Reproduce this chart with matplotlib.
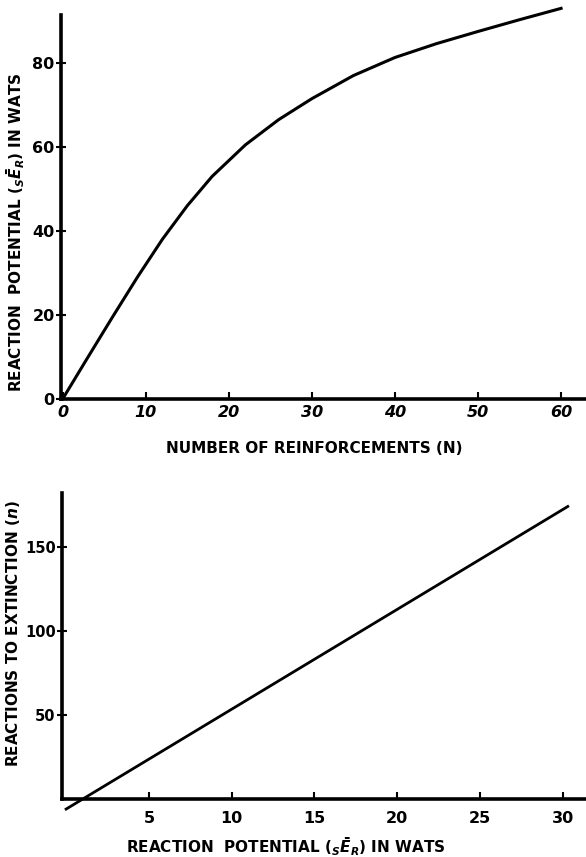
import numpy as np
import matplotlib
matplotlib.use('Agg')
import matplotlib.pyplot as plt

# Upper panel: reaction potential vs number of reinforcements
n_reinf = [0, 3, 6, 9, 12, 15, 18, 22, 26, 30, 35, 40, 45, 50, 55, 60]
potential = [0, 9.8, 19.5, 29, 38, 46, 53, 60.5, 66.5, 71.5, 77, 81.3, 84.6, 87.5, 90.3, 93]
top_xticks = [0, 10, 20, 30, 40, 50, 60]
top_yticks = [0, 20, 40, 60, 80]

# Lower panel: reactions to extinction vs reaction potential
pot2 = [0, 30.3]
extinction = [-6, 174]
bot_xticks = [5, 10, 15, 20, 25, 30]
bot_yticks = [50, 100, 150]

plt.rcParams['font.family'] = 'DejaVu Sans'
plt.rcParams['font.weight'] = 'bold'

fig = plt.figure(figsize=(5.86, 8.57), dpi=100)

ax1 = fig.add_axes([0.104, 0.5344, 0.896, 0.448])
ax1.plot(n_reinf, potential, color='black', lw=2.2, clip_on=False)
ax1.set_xlim(-0.2, 63)
ax1.set_ylim(0, 91.4)
ax1.set_xticks(top_xticks)
ax1.set_yticks(top_yticks)
ax1.set_xticklabels([str(t) for t in top_xticks], fontstyle='italic', fontweight='bold', fontsize=11.5)
ax1.set_yticklabels([str(t) for t in top_yticks], fontweight='bold', fontsize=11.5)
ax1.set_xlabel('NUMBER OF REINFORCEMENTS (N)', fontsize=11, fontweight='bold', va='center')
ax1.set_ylabel(r'REACTION  POTENTIAL (${}_{S}\bar{E}_{R}$) IN WATS', fontsize=11,
               fontweight='bold', va='center')
ax1.xaxis.set_label_coords(0.482, -0.128)
ax1.yaxis.set_label_coords(-0.086, 0.435)

ax2 = fig.add_axes([0.1058, 0.0677, 0.8942, 0.357])
ax2.plot(pot2, extinction, color='black', lw=2.0, clip_on=False)
ax2.set_xlim(-0.25, 31.4)
ax2.set_ylim(0, 182)
ax2.set_xticks(bot_xticks)
ax2.set_yticks(bot_yticks)
ax2.set_xticklabels([str(t) for t in bot_xticks], fontweight='bold', fontsize=11.5)
ax2.set_yticklabels([str(t) for t in bot_yticks], fontweight='bold', fontsize=10.5)
ax2.set_xlabel(r'REACTION  POTENTIAL (${}_{S}\bar{E}_{R}$) IN WATS', fontsize=11,
               fontweight='bold', va='center')
ax2.set_ylabel(r'REACTIONS TO EXTINCTION ($n$)', fontsize=11, fontweight='bold', va='center')
ax2.xaxis.set_label_coords(0.427, -0.157)
ax2.yaxis.set_label_coords(-0.094, 0.54)

for ax in (ax1, ax2):
    for side in ('top', 'right'):
        ax.spines[side].set_visible(False)
    for side in ('left', 'bottom'):
        ax.spines[side].set_linewidth(2.6)
    ax.tick_params(axis='x', direction='in', length=5, width=1.5, pad=4)
    ax.tick_params(axis='y', direction='inout', length=7, width=1.5, pad=1)

ax2.tick_params(axis='x', pad=9)

fig.savefig('out.png', dpi=100)
